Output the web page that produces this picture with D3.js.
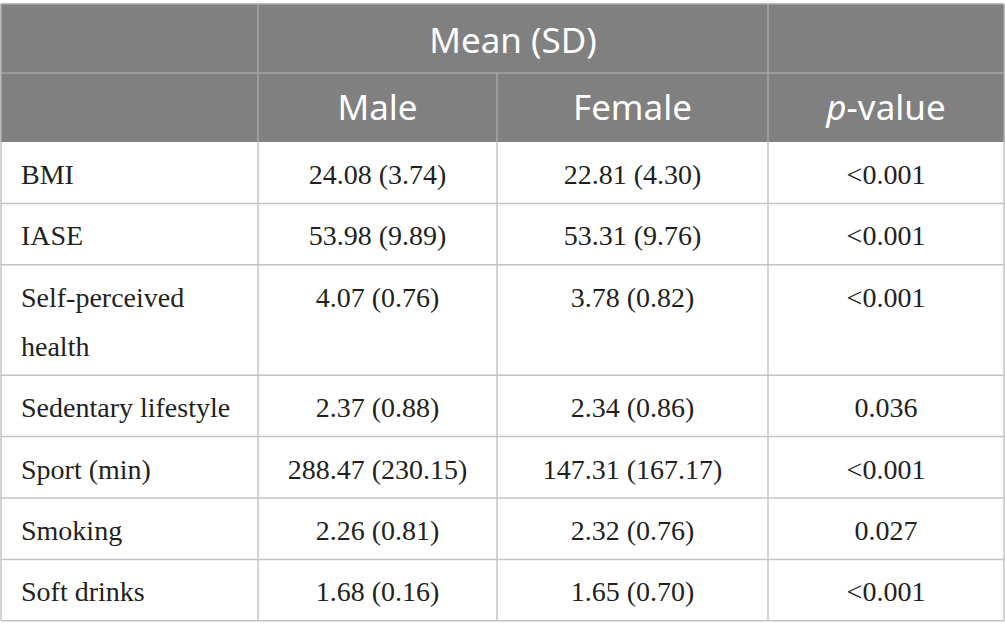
<!DOCTYPE html>
<html>
<head>
<meta charset="utf-8">
<script src="https://cdn.jsdelivr.net/npm/d3@7/dist/d3.min.js"></script>
<style>
  html, body { margin: 0; padding: 0; background: #fff; }
  svg { display: block; }
</style>
</head>
<body>
<svg id="chart" width="1005" height="639"></svg>
<script>
// ---- data ----
const groupHeader = "Mean (SD)";
const columnHeaders = ["Male", "Female"];
const pHeaderItalic = "p";
const pHeaderRest = "-value";
const variables = ["BMI", "IASE", "Self-perceived health", "Sedentary lifestyle", "Sport (min)", "Smoking", "Soft drinks"];
const maleMeans = ["24.08", "53.98", "4.07", "2.37", "288.47", "2.26", "1.68"];
const maleSD = ["3.74", "9.89", "0.76", "0.88", "230.15", "0.81", "0.16"];
const femaleMeans = ["22.81", "53.31", "3.78", "2.34", "147.31", "2.32", "1.65"];
const femaleSD = ["4.30", "9.76", "0.82", "0.86", "167.17", "0.76", "0.70"];
const pValues = ["<0.001", "<0.001", "<0.001", "0.036", "<0.001", "0.027", "<0.001"];

// ---- layout ----
const svg = d3.select("#chart");
const colEdges = [1, 258, 497, 768, 1004];
const top0 = 4;
const headH = 69;
const rowH = 61.4;
const lineH = 49;
const padL = 20;
const baseOff = 42;
const bodyFont = "'Liberation Serif', 'Times New Roman', serif";
const headFont = "'Noto Sans', 'Open Sans', sans-serif";
const bodySize = 28;
const headSize = 35;
const textColor = "#231f20";
const headFill = "#808080";
const gridColor = "#c4c4c4";
const headLine = "#a6a6a6";

const x = d3.scaleOrdinal().domain([0, 1, 2, 3]).range(colEdges.slice(0, 4));
const w = i => colEdges[i + 1] - colEdges[i];
const cx = i => x(i) + w(i) / 2;

// measure wrapping of variable labels
const measurer = svg.append("text").attr("font-family", bodyFont).attr("font-size", bodySize);
function wrap(label, maxW) {
  const words = label.split(" ");
  const lines = [];
  let cur = "";
  words.forEach(wd => {
    const test = cur ? cur + " " + wd : wd;
    measurer.text(test);
    if (measurer.node().getComputedTextLength() > maxW && cur) {
      lines.push(cur); cur = wd;
    } else cur = test;
  });
  if (cur) lines.push(cur);
  return lines;
}
const labelMax = w(0) - padL - 14;
const rows = variables.map((v, i) => ({
  lines: wrap(v, labelMax),
  male: `${maleMeans[i]} (${maleSD[i]})`,
  female: `${femaleMeans[i]} (${femaleSD[i]})`,
  p: pValues[i]
}));
measurer.remove();

let yCur = top0 + 2 * headH;
rows.forEach(r => { r.y = yCur; r.h = rowH + (r.lines.length - 1) * lineH; yCur += r.h; });
const bottom = yCur;

// ---- header ----
const head = svg.append("g");
head.append("rect").attr("x", colEdges[0]).attr("y", top0)
  .attr("width", colEdges[4] - colEdges[0]).attr("height", 2 * headH).attr("fill", headFill);

head.append("text").attr("x", (colEdges[1] + colEdges[3]) / 2).attr("y", top0 + 49)
  .attr("text-anchor", "middle").attr("font-family", headFont).attr("font-size", headSize)
  .attr("fill", "#fff").text(groupHeader);

head.selectAll("text.sub").data(columnHeaders).join("text").attr("class", "sub")
  .attr("x", (d, i) => cx(i + 1)).attr("y", top0 + headH + 47)
  .attr("text-anchor", "middle").attr("font-family", headFont).attr("font-size", headSize)
  .attr("fill", "#fff").text(d => d);

const pt = head.append("text").attr("x", cx(3)).attr("y", top0 + headH + 47)
  .attr("text-anchor", "middle").attr("font-family", headFont).attr("font-size", headSize)
  .attr("fill", "#fff");
pt.append("tspan").attr("font-style", "italic").text(pHeaderItalic);
pt.append("tspan").text(pHeaderRest);

// header lines
const hl = svg.append("g").attr("stroke", headLine).attr("stroke-width", 1.5);
hl.append("line").attr("x1", colEdges[0]).attr("x2", colEdges[4]).attr("y1", top0).attr("y2", top0);
hl.append("line").attr("x1", colEdges[0]).attr("x2", colEdges[4]).attr("y1", top0 + headH).attr("y2", top0 + headH);
[1, 3].forEach(i => hl.append("line").attr("x1", colEdges[i]).attr("x2", colEdges[i]).attr("y1", top0).attr("y2", top0 + 2 * headH));
hl.append("line").attr("x1", colEdges[2]).attr("x2", colEdges[2]).attr("y1", top0 + headH).attr("y2", top0 + 2 * headH);
[0, 4].forEach(i => hl.append("line").attr("x1", colEdges[i]).attr("x2", colEdges[i]).attr("y1", top0).attr("y2", top0 + 2 * headH));

// ---- body ----
const body = svg.append("g").attr("font-family", bodyFont).attr("font-size", bodySize).attr("fill", textColor);
const rg = body.selectAll("g.row").data(rows).join("g").attr("class", "row");
rg.append("text").attr("x", colEdges[0] + padL).attr("y", d => d.y + baseOff)
  .selectAll("tspan").data(d => d.lines).join("tspan")
  .attr("x", colEdges[0] + padL).attr("dy", (d, i) => i === 0 ? 0 : lineH).text(d => d);
rg.append("text").attr("x", cx(1)).attr("y", d => d.y + baseOff).attr("text-anchor", "middle").text(d => d.male);
rg.append("text").attr("x", cx(2)).attr("y", d => d.y + baseOff).attr("text-anchor", "middle").text(d => d.female);
rg.append("text").attr("x", cx(3)).attr("y", d => d.y + baseOff).attr("text-anchor", "middle").text(d => d.p);

// body grid
const gl = svg.append("g").attr("stroke", gridColor).attr("stroke-width", 1.5);
gl.selectAll("line.h").data(rows).join("line").attr("class", "h")
  .attr("x1", colEdges[0]).attr("x2", colEdges[4])
  .attr("y1", d => d.y + d.h).attr("y2", d => d.y + d.h);
gl.selectAll("line.v").data(colEdges).join("line").attr("class", "v")
  .attr("x1", d => d).attr("x2", d => d)
  .attr("y1", top0 + 2 * headH).attr("y2", bottom);
</script>
</body>
</html>
